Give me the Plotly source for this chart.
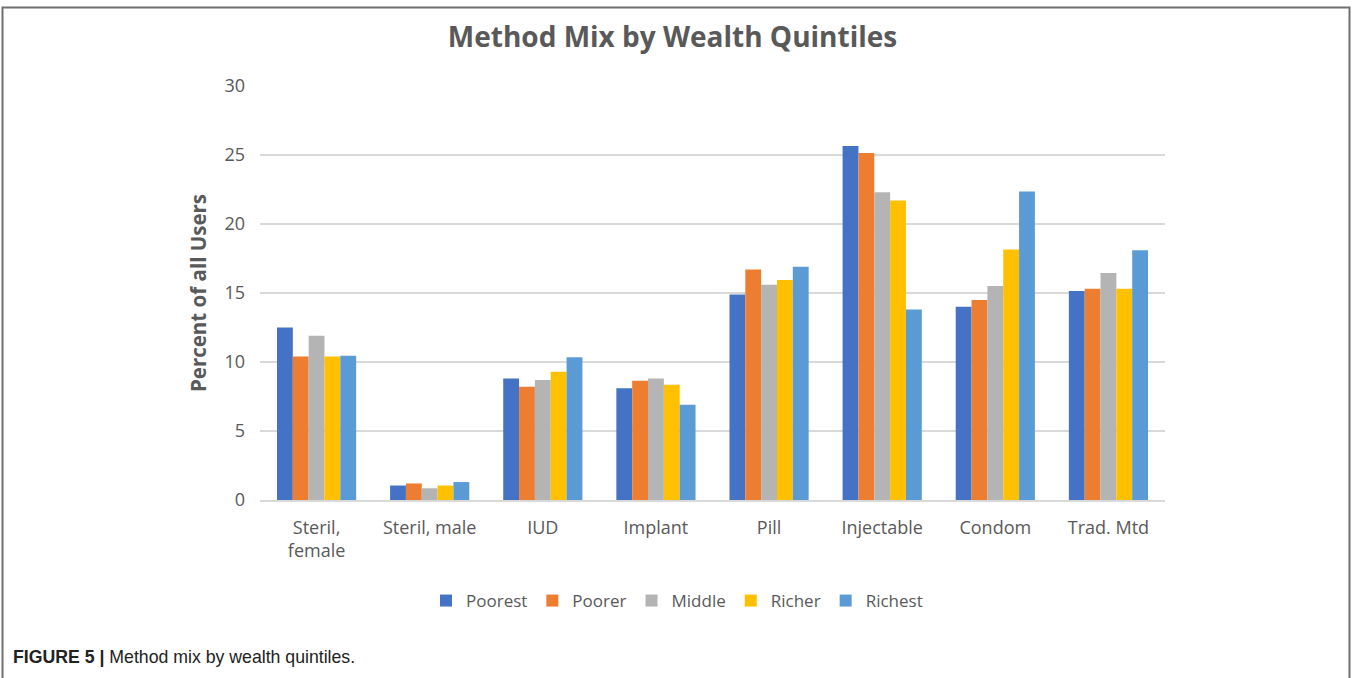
import plotly.graph_objects as go

methods = ['Steril,<br>female', 'Steril, male', 'IUD', 'Implant', 'Pill', 'Injectable', 'Condom', 'Trad. Mtd']
quintiles = ['Poorest', 'Poorer', 'Middle', 'Richer', 'Richest']
colors = ['#4472C4', '#ED7D31', '#B4B4B4', '#FFC000', '#5B9BD5']

poorest = [12.5, 1.05, 8.8, 8.1, 14.9, 25.65, 14.0, 15.15]
poorer = [10.4, 1.2, 8.2, 8.65, 16.7, 25.15, 14.5, 15.3]
middle = [11.9, 0.85, 8.7, 8.8, 15.6, 22.3, 15.5, 16.45]
richer = [10.4, 1.05, 9.3, 8.35, 15.95, 21.7, 18.15, 15.3]
richest = [10.45, 1.3, 10.35, 6.9, 16.9, 13.8, 22.35, 18.1]

series = [poorest, poorer, middle, richer, richest]

# plot area in pixels: x 260..1165, y 86..500
L, R, T, B = 260, 1165, 86, 500
W, H = 1352, 678


def px(x):
    return (x - L) / (R - L)


def py(y):
    return (B - y) / (B - T)


fig = go.Figure()
for name, vals, c in zip(quintiles, series, colors):
    fig.add_trace(go.Bar(x=methods, y=vals, name=name, marker_color=c,
                         marker_line_width=0))

grey = '#595959'
fig.update_layout(
    width=W, height=H,
    margin=dict(l=L, r=W - R, t=T, b=H - B),
    paper_bgcolor='white', plot_bgcolor='white',
    font=dict(family='Open Sans', color=grey, size=18),
    barmode='group', bargap=0.3, bargroupgap=0,
    title=dict(text='<b>Method Mix by Wealth Quintiles</b>', x=672.5 / W, xanchor='center',
               y=1 - 37 / H, yanchor='middle',
               font=dict(size=28, color=grey, family='Open Sans')),
    legend=dict(orientation='h', x=px(677), xanchor='center', y=py(601), yanchor='middle',
                font=dict(size=17, color=grey), itemwidth=30, traceorder='normal'),
    showlegend=True,
)
fig.update_yaxes(range=[0, 30], dtick=5, showgrid=True, gridcolor='#D9D9D9', gridwidth=2,
                 zeroline=False, showline=False, ticks='', ticklabelstandoff=14,
                 title=dict(text='<b>Percent of all Users</b>', standoff=12,
                            font=dict(size=20.5, color=grey)),
                 tickfont=dict(size=18, color=grey))
fig.update_xaxes(showline=True, linecolor='#D9D9D9', linewidth=2, ticks='',
                 ticklabelstandoff=10,
                 tickfont=dict(size=18, color=grey), tickangle=0)

# figure border
fig.add_shape(type='rect', xref='paper', yref='paper',
              x0=px(2.5), x1=px(1349.5), y0=py(690), y1=py(7.5),
              line=dict(color='#707070', width=2), fillcolor='rgba(0,0,0,0)')

fig.add_annotation(text='<b>FIGURE 5 |</b> Method mix by wealth quintiles.',
                   xref='paper', yref='paper', x=px(11), y=py(657),
                   xanchor='left', yanchor='middle', showarrow=False,
                   font=dict(family='Liberation Sans', size=17.7, color='#222222'))

fig.write_html('out.html', config={'displayModeBar': False},
               post_script="document.body.style.margin='0';")
